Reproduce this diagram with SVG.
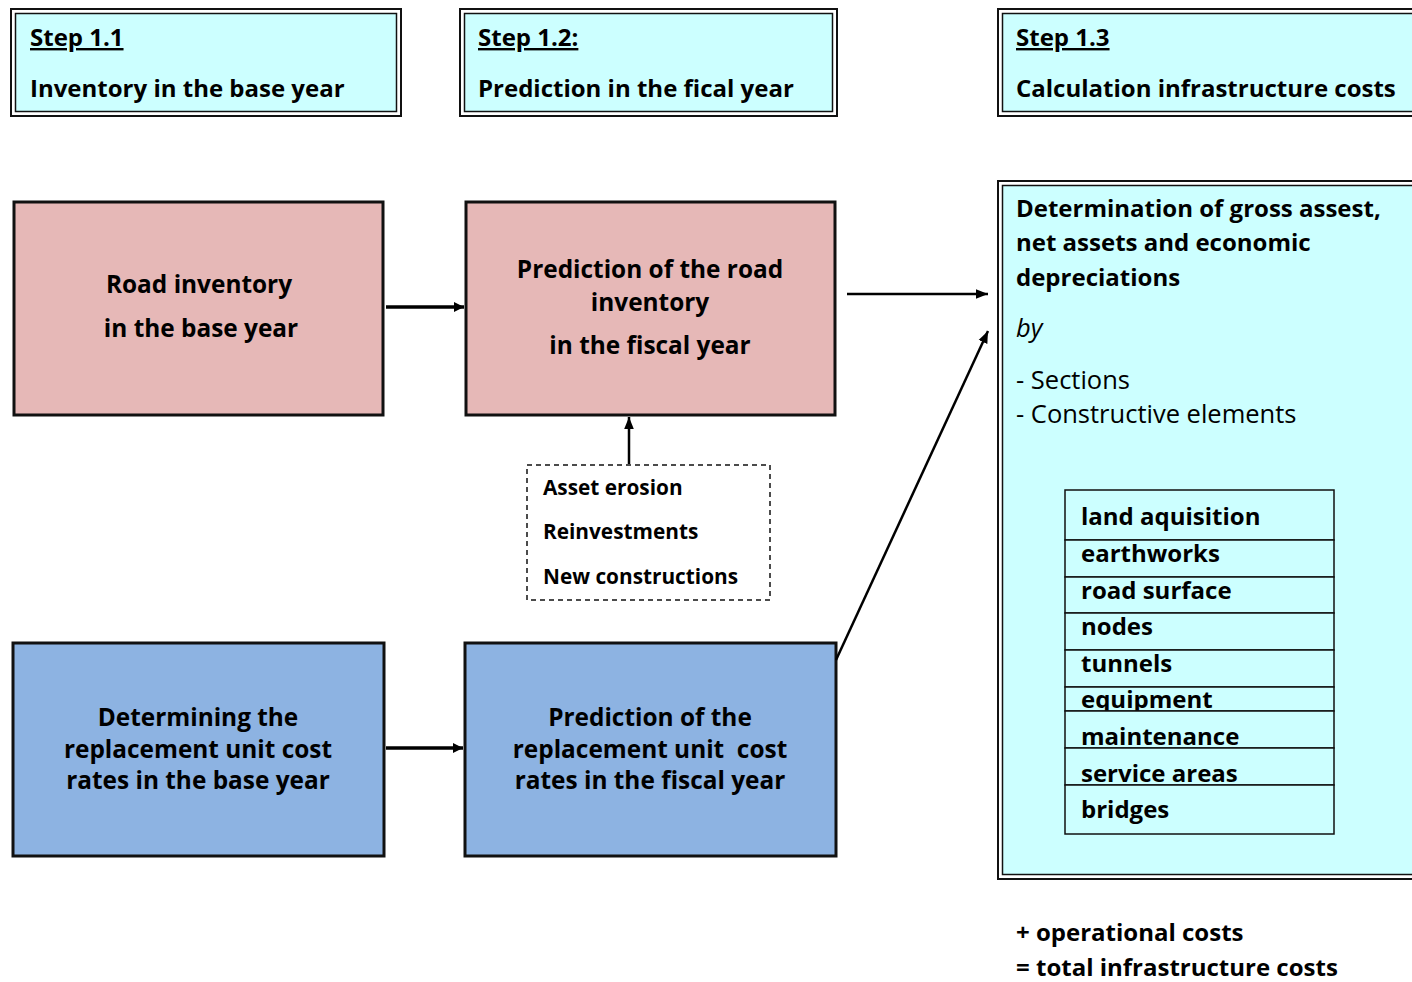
<svg xmlns="http://www.w3.org/2000/svg" width="1412" height="982" viewBox="0 0 1412 982">
<defs>
<marker id="ah" viewBox="0 0 10 10" refX="10" refY="5" markerWidth="10" markerHeight="10" markerUnits="userSpaceOnUse" orient="auto">
<path d="M0,0 L10,5 L0,10 z" fill="#000"/>
</marker>
<marker id="ah2" viewBox="0 0 10 10" refX="10" refY="5" markerWidth="12" markerHeight="12" markerUnits="userSpaceOnUse" orient="auto">
<path d="M0,1 L10,5 L0,9 z" fill="#000"/>
</marker>
</defs>
<style>
text{font-family:"Open Sans","Noto Sans","Liberation Sans",sans-serif;fill:#000}
.step{font-size:24px;font-weight:bold}
.node{font-size:24.4px;font-weight:bold;text-anchor:middle}
.lt{font-size:24px;font-weight:bold}
.reg{font-size:25.5px}
.outer{fill:none;stroke:#111;stroke-width:2}
.inner{fill:#CCFFFF;stroke:#111;stroke-width:1.5}
.pink{fill:#E6B8B7;stroke:#111;stroke-width:3}
.blue{fill:#8DB3E2;stroke:#111;stroke-width:3}
.conn{stroke:#000;fill:none}
.row{fill:#CCFFFF;stroke:#111;stroke-width:1.5}
.tbl{font-size:24px;font-weight:bold}
.dash{font-size:20.8px;font-weight:bold}
</style>
<rect width="1412" height="982" fill="#fff"/>

<g id="step11">
<rect class="outer" x="11" y="9" width="390" height="107"/>
<rect class="inner" x="15.5" y="13.5" width="381" height="98"/>
<text class="step" x="30" y="46" text-decoration="underline">Step 1.1</text>
<text class="step" x="30" y="97">Inventory in the base year</text>
</g>
<g id="step12">
<rect class="outer" x="460" y="9" width="377" height="107"/>
<rect class="inner" x="464.5" y="13.5" width="368" height="98"/>
<text class="step" x="478" y="46" text-decoration="underline">Step 1.2:</text>
<text class="step" x="478" y="97">Prediction in the fical year</text>
</g>
<g id="step13">
<rect class="outer" x="998" y="9" width="420" height="107"/>
<rect class="inner" x="1002.5" y="13.5" width="420" height="98"/>
<text class="step" x="1016" y="46" text-decoration="underline">Step 1.3</text>
<text class="step" x="1016" y="97">Calculation infrastructure costs</text>
</g>

<g id="road-base">
<rect class="pink" x="14" y="202" width="369" height="213"/>
<text class="node" x="199" y="293">Road inventory</text>
<text class="node" x="201" y="337">in the base year</text>
</g>
<g id="road-fiscal">
<rect class="pink" x="466" y="202" width="369" height="213"/>
<text class="node" x="650" y="278">Prediction of the road</text>
<text class="node" x="650" y="311">inventory</text>
<text class="node" x="650" y="354">in the fiscal year</text>
</g>
<g id="factors">
<rect x="527" y="465" width="243" height="135" fill="#fff" stroke="#111" stroke-width="1.5" stroke-dasharray="5,4"/>
<text class="dash" x="543" y="495">Asset erosion</text>
<text class="dash" x="543" y="539">Reinvestments</text>
<text class="dash" x="543" y="584">New constructions</text>
</g>
<g id="cost-base">
<rect class="blue" x="13" y="643" width="371" height="213"/>
<text class="node" x="198" y="726">Determining the</text>
<text class="node" x="198" y="758">replacement unit cost</text>
<text class="node" x="198" y="789">rates in the base year</text>
</g>
<g id="cost-fiscal">
<rect class="blue" x="465" y="643" width="371" height="213"/>
<text class="node" x="650" y="726">Prediction of the</text>
<text class="node" x="650" y="758" xml:space="preserve">replacement unit  cost</text>
<text class="node" x="650" y="789">rates in the fiscal year</text>
</g>

<g id="result">
<rect class="outer" x="998" y="181" width="420" height="698"/>
<rect class="inner" x="1002.5" y="185.5" width="420" height="689"/>
<text class="lt" x="1016" y="217">Determination of gross assest,</text>
<text class="lt" x="1016" y="251">net assets and economic</text>
<text class="lt" x="1016" y="286">depreciations</text>
<text class="reg" x="1016" y="337" font-style="italic">by</text>
<text class="reg" x="1016" y="389">- Sections</text>
<text class="reg" x="1016" y="423">- Constructive elements</text>
</g>
<g id="elements">
<rect class="row" x="1065" y="490" width="269" height="50"/>
<text class="tbl" x="1081" y="525">land aquisition</text>
<rect class="row" x="1065" y="540" width="269" height="37"/>
<text class="tbl" x="1081" y="562">earthworks</text>
<rect class="row" x="1065" y="577" width="269" height="36"/>
<text class="tbl" x="1081" y="599">road surface</text>
<rect class="row" x="1065" y="613" width="269" height="37"/>
<text class="tbl" x="1081" y="635">nodes</text>
<rect class="row" x="1065" y="650" width="269" height="37"/>
<text class="tbl" x="1081" y="672">tunnels</text>
<rect class="row" x="1065" y="687" width="269" height="24"/>
<text class="tbl" x="1081" y="708">equipment</text>
<rect class="row" x="1065" y="711" width="269" height="37"/>
<text class="tbl" x="1081" y="745">maintenance</text>
<rect class="row" x="1065" y="748" width="269" height="37"/>
<text class="tbl" x="1081" y="782">service areas</text>
<rect class="row" x="1065" y="785" width="269" height="49"/>
<text class="tbl" x="1081" y="818">bridges</text>
</g>
<g id="totals">
<text class="step" x="1016" y="941">+ operational costs</text>
<text class="step" x="1016" y="976">= total infrastructure costs</text>
</g>

<g id="connectors">
<line class="conn" x1="386" y1="307" x2="464" y2="307" stroke-width="3.5" marker-end="url(#ah)"/>
<line class="conn" x1="386" y1="748" x2="463" y2="748" stroke-width="3.5" marker-end="url(#ah)"/>
<line class="conn" x1="847" y1="294" x2="988" y2="294" stroke-width="2.5" marker-end="url(#ah2)"/>
<line class="conn" x1="629" y1="464" x2="629" y2="417" stroke-width="2.5" marker-end="url(#ah2)"/>
<line class="conn" x1="836" y1="660" x2="988" y2="331" stroke-width="2.5" marker-end="url(#ah2)"/>
</g>
</svg>
